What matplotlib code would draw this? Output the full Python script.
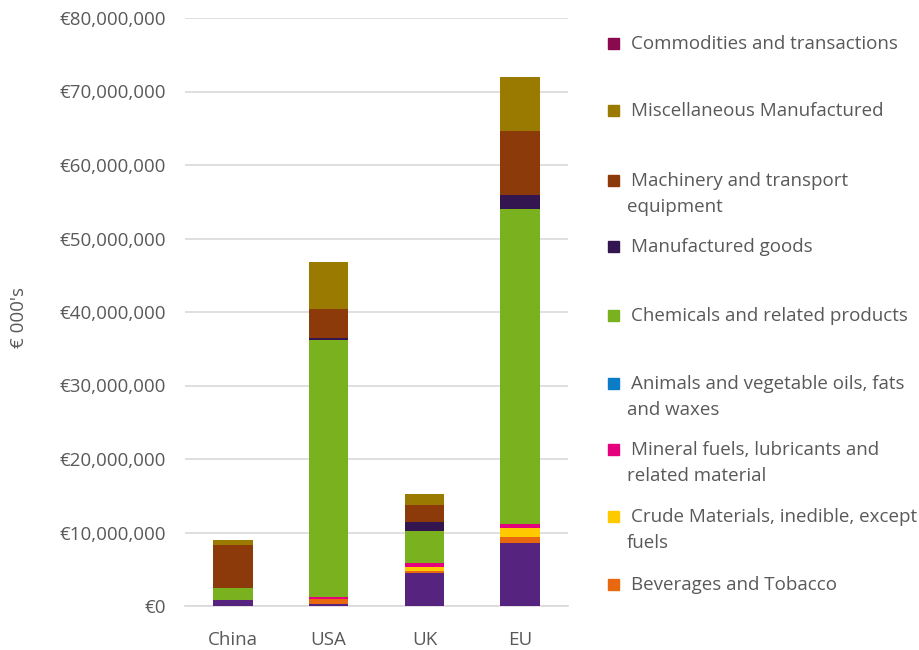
import matplotlib
matplotlib.use('Agg')
import matplotlib.pyplot as plt
from matplotlib.patches import Rectangle
import matplotlib.ticker as mticker
import numpy as np

plt.rcParams['font.family'] = ['Open Sans', 'DejaVu Sans']

countries = ['China', 'USA', 'UK', 'EU']

# values in € 000's
food        = [860000,  250000,  4530000,  8570000]
beverages   = [0,       770000,  270000,   760000]
crude       = [0,       0,       500000,   1290000]
mineral     = [0,       180000,  500000,   480000]
animals     = [0,       0,       0,        0]
chemicals   = [1550000, 35020000, 4400000, 42850000]
manufact    = [0,       180000,  1270000,  1910000]
machinery   = [5910000, 3980000, 2230000,  8810000]
misc        = [630000,  6450000, 1540000,  7280000]
commodities = [0,       0,       0,        0]

series = [
    ('Food and live animals', food, '#56237F'),
    ('Beverages and Tobacco', beverages, '#E8680F'),
    ('Crude Materials, inedible, except\nfuels', crude, '#FFC900'),
    ('Mineral fuels, lubricants and\nrelated material', mineral, '#E5007D'),
    ('Animals and vegetable oils, fats\nand waxes', animals, '#0B7DC6'),
    ('Chemicals and related products', chemicals, '#7AB11F'),
    ('Manufactured goods', manufact, '#33154F'),
    ('Machinery and transport\nequipment', machinery, '#8D3A0A'),
    ('Miscellaneous Manufactured', misc, '#9A7A00'),
    ('Commodities and transactions', commodities, '#8A0A4F'),
]

W, H = 919, 650
FS = 13.5
fig = plt.figure(figsize=(W / 100, H / 100), dpi=100)
ax = fig.add_axes([185 / W, 1 - 606 / H, 383 / W, 588 / H])

x = np.arange(len(countries))
bottom = np.zeros(len(countries))
for name, vals, color in series:
    vals = np.array(vals, dtype=float)
    ax.bar(x, vals, 0.41, bottom=bottom, color=color, zorder=3)
    bottom += vals

ax.set_xlim(-0.5, 3.5)
ax.set_ylim(0, 80000000)
ax.set_yticks(np.arange(0, 80000001, 10000000))
ax.yaxis.set_major_formatter(mticker.FuncFormatter(lambda v, p: f'€{int(v):,}'))
ax.set_xticks(x)
ax.set_xticklabels(countries)
ax.grid(axis='y', color='#D9D9D9', linewidth=1.2, zorder=0)
for s in ['top', 'right', 'left']:
    ax.spines[s].set_visible(False)
ax.spines['bottom'].set_color('#D9D9D9')
ax.spines['bottom'].set_linewidth(1.2)
ax.tick_params(axis='both', length=0, labelsize=FS, colors='#595959')
ax.tick_params(axis='y', pad=14)
ax.tick_params(axis='x', pad=18)
ax.set_ylabel("€ 000's", fontsize=FS, color='#595959')
ax.yaxis.set_label_coords(-0.41, 0.49)

# legend drawn by hand, top entry first
legend_rows = [
    (series[9], 44),
    (series[8], 111),
    (series[7], 181),
    (series[6], 247),
    (series[5], 316),
    (series[4], 384),
    (series[3], 450),
    (series[2], 517),
    (series[1], 585),
]
for (name, vals, color), ypx in legend_rows:
    fig.patches.append(Rectangle((608 / W, 1 - (ypx + 5) / H), 11 / W, 11 / H,
                                 transform=fig.transFigure, color=color))
    lines = name.split('\n')
    fig.text(631 / W, 1 - ypx / H, lines[0], fontsize=FS, color='#595959',
             va='center', ha='left')
    if len(lines) > 1:
        fig.text(627 / W, 1 - (ypx + 26) / H, lines[1], fontsize=FS,
                 color='#595959', va='center', ha='left')

fig.savefig('out.png', dpi=100)
